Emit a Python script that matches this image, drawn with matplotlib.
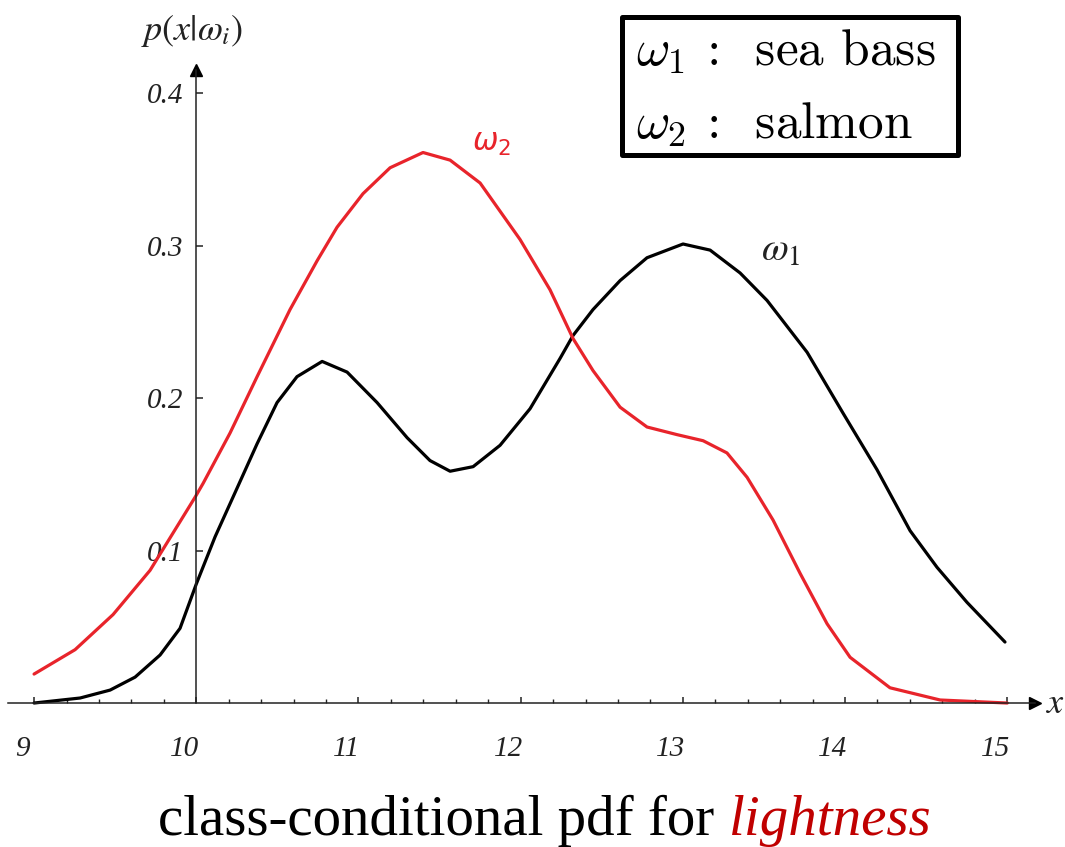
import matplotlib.pyplot as plt
from matplotlib.patches import Rectangle
from matplotlib.transforms import ScaledTranslation

# class-conditional pdf
x_bass = [9.0, 9.284, 9.469, 9.623, 9.777, 9.900, 10.0, 10.116, 10.252, 10.375, 10.498,
          10.621, 10.776, 10.930, 11.115, 11.300, 11.441, 11.565, 11.707, 11.873, 12.058,
          12.243, 12.323, 12.446, 12.613, 12.779, 13.001, 13.168, 13.353, 13.519, 13.766,
          13.988, 14.197, 14.401, 14.567, 14.752, 14.986]
p_bass = [0.0, 0.0033, 0.0085, 0.017, 0.0315, 0.049, 0.078, 0.109, 0.141, 0.170, 0.197,
          0.214, 0.224, 0.217, 0.197, 0.174, 0.159, 0.152, 0.155, 0.169, 0.193,
          0.226, 0.241, 0.258, 0.277, 0.292, 0.301, 0.297, 0.282, 0.264, 0.230,
          0.190, 0.153, 0.113, 0.089, 0.066, 0.040]

x_salmon = [9.0, 9.253, 9.487, 9.715, 9.993, 10.042, 10.208, 10.375, 10.578, 10.745,
            10.868, 11.028, 11.195, 11.398, 11.565, 11.750, 11.996, 12.181, 12.323, 12.446,
            12.613, 12.779, 12.964, 13.125, 13.272, 13.396, 13.556, 13.723, 13.889, 14.031,
            14.277, 14.586, 15.0]
p_salmon = [0.019, 0.035, 0.058, 0.087, 0.135, 0.144, 0.177, 0.214, 0.258, 0.290,
            0.312, 0.334, 0.351, 0.361, 0.356, 0.341, 0.304, 0.271, 0.239, 0.218,
            0.194, 0.181, 0.176, 0.172, 0.164, 0.148, 0.120, 0.085, 0.052, 0.030,
            0.010, 0.002, 0.0]

xticks = [9, 10, 11, 12, 13, 14, 15]
yticks = [0.1, 0.2, 0.3, 0.4]
ytick_labels = ["0.1", "0.2", "0.3", "0.4"]

W, H = 1065, 847
fig = plt.figure(figsize=(W / 100, H / 100), dpi=100)
ax = fig.add_axes([0, 0, 1, 1])
ax.set_xlim(8.790, 15.356)
ax.set_ylim(-0.0944, 0.461)

ax.plot(x_bass, p_bass, color='black', lw=2.3, solid_capstyle='round', solid_joinstyle='round')
ax.plot(x_salmon, p_salmon, color='#e8242b', lw=2.3, solid_capstyle='round', solid_joinstyle='round')

# axes through the origin (10, 0)
for s in ['top', 'right']:
    ax.spines[s].set_visible(False)
ax.spines['left'].set_position(('data', 10))
ax.spines['bottom'].set_position(('data', 0))
ax.spines['left'].set_bounds(0, 0.415)
ax.spines['bottom'].set_bounds(8.84, 15.17)
for s in ['left', 'bottom']:
    ax.spines[s].set_linewidth(1.1)
    ax.spines[s].set_color('#222222')
ax.plot(15.17, 0, marker='>', color='black', ms=9, clip_on=False)
ax.plot(10, 0.415, marker='^', color='black', ms=9, clip_on=False)

tick_font = dict(family='Liberation Serif', style='italic', size=21)
ax.set_xticks(xticks)
ax.set_xticklabels([str(t) for t in xticks], fontdict=tick_font)
ax.set_xticks([9 + 0.2 * i for i in range(31)], minor=True)
ax.set_yticks(yticks)
ax.set_yticklabels(ytick_labels, fontdict=tick_font)
ax.tick_params(axis='x', which='major', direction='in', length=4.5, width=1.1, pad=24, colors='#222222')
ax.tick_params(axis='x', which='minor', direction='in', length=3, width=1.0, colors='#222222')
ax.tick_params(axis='y', direction='in', length=5, width=1.1, pad=9, colors='#222222')
for lab in ax.get_xticklabels():
    lab.set_transform(lab.get_transform() + ScaledTranslation(-0.12, 0, fig.dpi_scale_trans))

ax.text(9.976, 0.441, r"$p(x|\omega_i)$", ha='center', va='center', fontsize=26,
        math_fontfamily='stix', color='#222222')
ax.text(15.24, 0, r"$x$", ha='left', va='center', fontsize=26,
        math_fontfamily='stix', color='#222222')

ax.text(11.82, 0.367, r"$\omega_2$", ha='center', va='center', fontsize=22,
        math_fontfamily='dejavusans', color='#e8242b')
ax.text(13.605, 0.297, r"$\omega_{\mathit{1}}$", ha='center', va='center', fontsize=28,
        math_fontfamily='stix', color='#222222')

# legend box
fig.add_artist(Rectangle((622 / W, 1 - 155 / H), 336 / W, 138 / H, transform=fig.transFigure,
                         fill=False, lw=3.6, ec='black', joinstyle='round'))
fig.text(636 / W, 1 - 65 / H, r"$\omega_1$ :  sea bass", fontsize=37, family='cmr10',
         math_fontfamily='cm', va='baseline', ha='left')
fig.text(636 / W, 1 - 138 / H, r"$\omega_2$ :  salmon", fontsize=37, family='cmr10',
         math_fontfamily='cm', va='baseline', ha='left')

# caption
cap = fig.text(158 / W, 1 - 835 / H, "class-conditional pdf for ", fontsize=41,
               family='Liberation Serif', va='baseline', ha='left')
fig.canvas.draw()
bb = cap.get_window_extent()
fig.text(bb.x1 / W, 1 - 835 / H, "lightness", fontsize=41, family='Liberation Serif',
         style='italic', color='#c00000', va='baseline', ha='left')

fig.savefig('out.png', dpi=100)
